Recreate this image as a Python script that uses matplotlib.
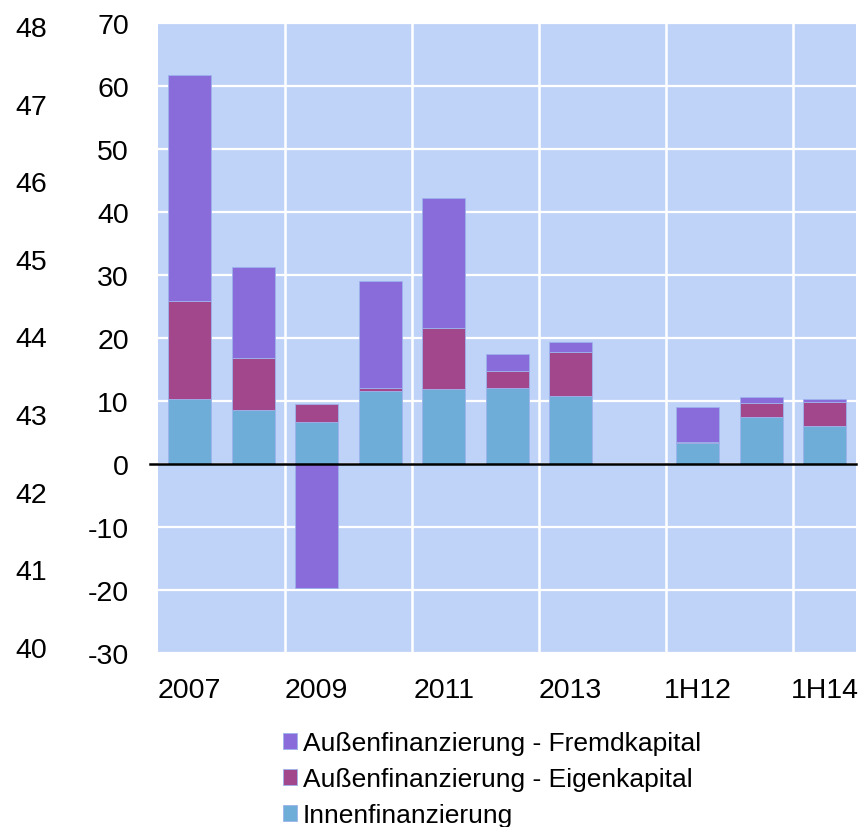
import numpy as np
import matplotlib
matplotlib.use("Agg")
import matplotlib.pyplot as plt

plt.rcParams['font.family'] = ['Liberation Sans', 'DejaVu Sans']
plt.rcParams['axes.unicode_minus'] = False

# Daten (Mrd.)
categories = ['2007', '2008', '2009', '2010', '2011', '2012', '2013', '', '1H12', '1H13', '1H14']
tick_labels = ['2007', '', '2009', '', '2011', '', '2013', '', '1H12', '', '1H14']
innen = [10.3, 8.6, 6.6, 11.6, 11.9, 12.1, 10.8, np.nan, 3.4, 7.5, 6.1]
eigen = [15.5, 8.2, 2.9, 0.4, 9.7, 2.7, 7.0, np.nan, 0.1, 2.2, 3.7]
fremd = [36.0, 14.5, -19.7, 17.0, 20.6, 2.7, 1.6, np.nan, 5.6, 0.9, 0.5]

series = [
    ('Innenfinanzierung', innen, '#6FADD9'),
    ('Außenfinanzierung - Eigenkapital', eigen, '#A2478B'),
    ('Außenfinanzierung - Fremdkapital', fremd, '#896CD9'),
]

fig = plt.figure(figsize=(8.62, 8.28), dpi=100)
ax = fig.add_axes([0.1833, 0.2101, 0.8103, 0.7609])
ax.set_facecolor('#BFD3F8')

x = np.arange(len(categories))
pos_bottom = np.zeros(len(x))
neg_bottom = np.zeros(len(x))
handles = {}
for name, vals, color in series:
    v = np.nan_to_num(np.array(vals, dtype=float))
    bottom = np.where(v >= 0, pos_bottom, neg_bottom)
    b = ax.bar(x, v, bottom=bottom, width=0.67, color=color,
               edgecolor='#9DB3EC', linewidth=0.6, zorder=3)
    handles[name] = b
    pos_bottom += np.where(v >= 0, v, 0)
    neg_bottom += np.where(v < 0, v, 0)

ax.set_xlim(-0.5, len(x) - 0.5)
ax.set_ylim(-30, 70)
ax.set_yticks(np.arange(-30, 71, 10))
ax.set_xticks(x)
ax.set_xticklabels(tick_labels)
ax.tick_params(axis='both', length=0, labelsize=20.5)
ax.tick_params(axis='y', pad=21)
ax.tick_params(axis='x', pad=17)

# Gitter
ax.set_xticks(np.arange(1.5, len(x) - 1, 2), minor=True)
ax.tick_params(axis='x', which='minor', length=0)
ax.grid(True, axis='y', which='major', color='white', linewidth=1.6, zorder=1)
ax.grid(True, axis='x', which='minor', color='white', linewidth=1.8, zorder=1)
ax.grid(False, axis='x', which='major')
ax.set_axisbelow(True)
for s in ax.spines.values():
    s.set_visible(False)

ax.axhline(0, xmin=-0.012, xmax=1, color='black', linewidth=1.8, zorder=4, clip_on=False)

# zweite Achse links (40-48)
ax2 = ax.twinx()
ax2.yaxis.tick_left()
ax2.set_ylim(39.92, 48.04)
ax2.set_yticks(np.arange(40, 49, 1))
ax2.tick_params(axis='y', length=0, labelsize=20.5, pad=80)
for s in ax2.spines.values():
    s.set_visible(False)

order = ['Außenfinanzierung - Fremdkapital', 'Außenfinanzierung - Eigenkapital', 'Innenfinanzierung']
fig.legend([handles[n] for n in order], order, loc='upper left',
           bbox_to_anchor=(0.328, 0.116), frameon=False, fontsize=19,
           handlelength=0.55, handleheight=0.55, handletextpad=0.22,
           labelspacing=0.46, borderpad=0, borderaxespad=0)

fig.savefig('out.png', dpi=100)
